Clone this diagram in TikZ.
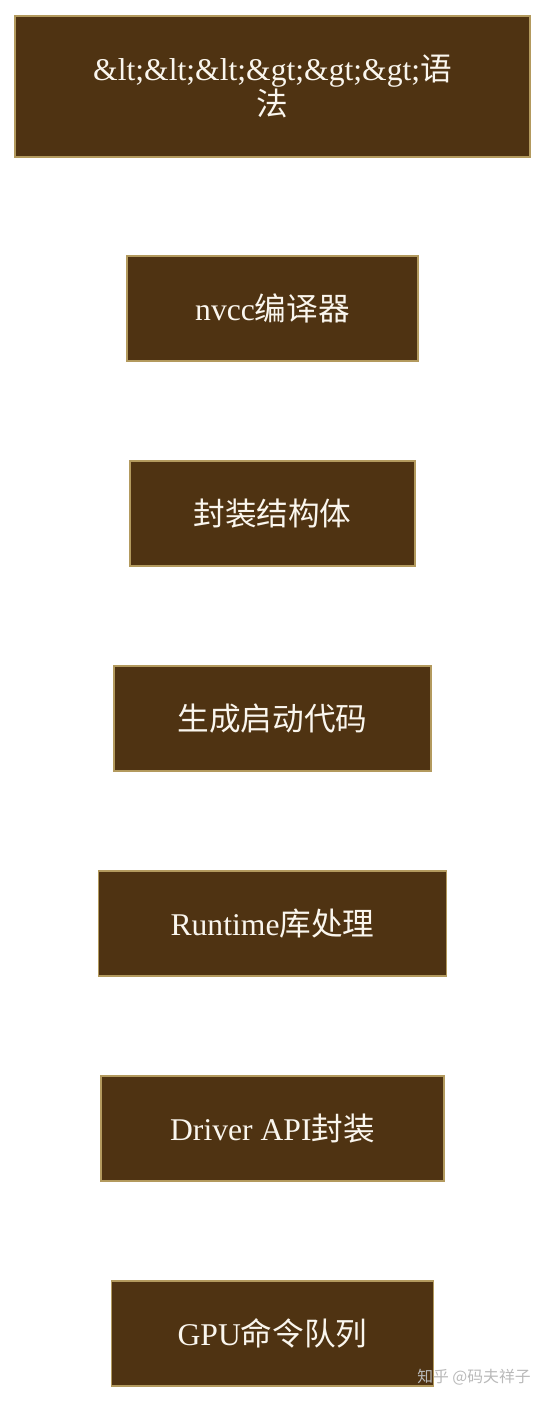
\documentclass[tikz,border=0pt]{standalone}
\usepackage{fontspec}
\setmainfont{Liberation Serif}
\newfontfamily\cjk{Noto Sans CJK SC}
\usetikzlibrary{positioning}
\definecolor{boxfill}{HTML}{4F3312}
\definecolor{boxline}{HTML}{B39A5E}
\definecolor{boxtext}{HTML}{FAF6EE}

\begin{document}
\begin{tikzpicture}[node distance=4.1cm,
    every node/.style={font=\fontsize{18}{21}\selectfont},
    stagebox/.style={draw=boxline, fill=boxfill, line width=1pt, text=boxtext, align=center, rectangle, minimum height=2.1cm}]
        % canvas
        \useasboundingbox (0,0) rectangle (10.92,-28.04);
        % First stage: launch syntax
        \node[stagebox, minimum width=10.3cm, minimum height=2.82cm] (syntax) at (5.45,-1.73) {\&lt;\&lt;\&lt;\&gt;\&gt;\&gt;{\cjk 语}\\[-1.5pt]{\cjk 法}};
        % Compiler
        \node[stagebox, minimum width=5.82cm, below of=syntax, yshift=-0.34cm] (nvcc) {nvcc{\cjk 编译器}};
        % Packed struct
        \node[stagebox, minimum width=5.7cm, below of=nvcc] (pack) {{\cjk 封装结构体}};
        % Launch code
        \node[stagebox, minimum width=6.34cm, below of=pack] (launch) {{\cjk 生成启动代码}};
        % Runtime
        \node[stagebox, minimum width=6.96cm, below of=launch] (runtime) {Runtime{\cjk 库处理}};
        % Driver API
        \node[stagebox, minimum width=6.86cm, below of=runtime] (driver) {Driver API{\cjk 封装}};
        % GPU queue
        \node[stagebox, minimum width=6.44cm, below of=driver] (queue) {GPU{\cjk 命令队列}};
        % watermark
        \node[anchor=east, text=gray!55, font=\cjk\fontsize{9}{10}\selectfont, inner sep=0pt] (mark) at (10.62,-27.54) {知乎 @码夫祥子};
\end{tikzpicture}
\end{document}
